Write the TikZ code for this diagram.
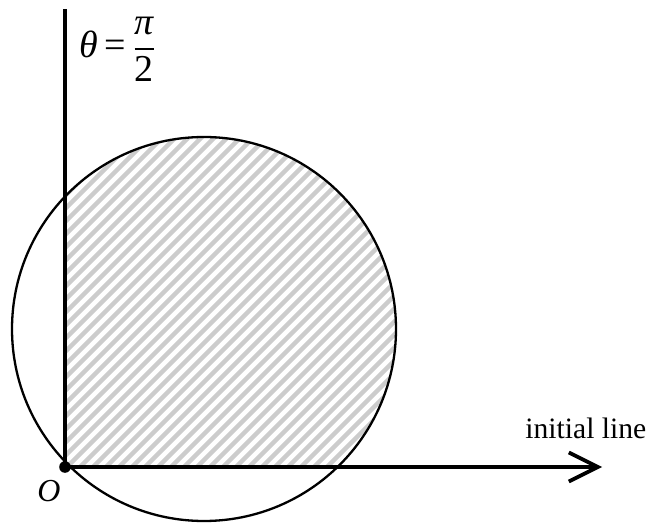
\documentclass[tikz,border=0pt]{standalone}
\usepackage{amsmath}
\usepackage{fontspec}
\setmainfont{Liberation Serif}
\usetikzlibrary{arrows.meta}
\begin{document}
\begin{tikzpicture}[x=0.5pt,y=-0.5pt,
  axis/.style={line width=1.9pt},
  circ/.style={line width=1.15pt},
  hatch/.style={line width=2.2pt,color=black!20},
  lbl/.style={inner sep=0pt,font=\fontsize{14.8}{17}\selectfont}]
\path[use as bounding box] (0,0) rectangle (658,523);
\coordinate (O) at (65,467);
\coordinate (T) at (65,9);
\coordinate (E) at (602,467);
\coordinate (C) at (204,329);
% hatched region
\begin{scope}
  \clip (O) rectangle (420,100);
  \clip (C) circle [radius=192];
  \foreach \k in {-520,-507,...,420}{
    \draw[hatch] (\k,560) -- ++(560,-560);
  }
\end{scope}
\draw[circ] (C) circle [radius=192];
\draw[axis] (O) -- (T);
\draw[axis,-{Straight Barb[length=14.5pt,width=14.5pt,line width=1.9pt]}] (O) -- (E);
\fill (O) circle [radius=2.9pt];
\node[lbl,anchor=base west] (init) at (525,438) {initial line};
\node[lbl,font=\fontsize{16}{18}\selectfont] (o) at (49,491) {\itshape O};
\node[inner sep=0pt,anchor=base west,font=\fontsize{19}{22}\selectfont] (theta) at (79,58)
  {\itshape θ\,\upshape=\,$\genfrac{}{}{1pt}{0}{\mbox{\itshape π}}{\mbox{2}}$};
\end{tikzpicture}
\end{document}
